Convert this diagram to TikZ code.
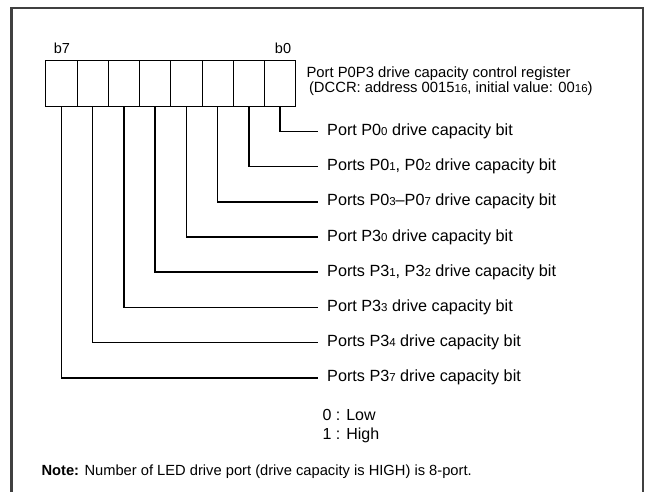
\documentclass[tikz,border=0pt]{standalone}
\usepackage{fontspec}
\setmainfont{Liberation Sans}
\usetikzlibrary{positioning}
\newcommand{\lo}[1]{{\fontsize{11.5}{11.5}\selectfont #1}}

\begin{document}
\begin{tikzpicture}[x=1pt, y=-1pt,
  regcell/.style={draw, line width=0.8pt, minimum width=31.25pt, minimum height=45.3pt, inner sep=0pt},
  leader/.style={line width=1.6pt},
  bitlabel/.style={anchor=west, inner xsep=9pt, inner ysep=0pt, font=\fontsize{16.2}{16}\selectfont},
  bitnum/.style={font=\fontsize{14.5}{15}\selectfont},
  frame/.style={line width=2.2pt, draw=black!75}
]
  \useasboundingbox (0,0) rectangle (647,491);
  \draw[frame] (11.5,495) -- (11.5,8) -- (643,8) -- (643,495);

  % register cells, b7 on the left
  \foreach \i in {0,...,7}
    \node[regcell] (bit\i) at ({61.35+31.25*(7-\i)}, 83.35) {};
  \node[bitnum] (msb) at (62,48) {b7};
  \node[bitnum] (lsb) at (283,48) {b0};

  \node[anchor=west, align=left, font=\fontsize{14.8}{15}\selectfont] (regname) at (303,81)
    {Port P0P3 drive capacity control register\\
     \hspace{2.5pt}(DCCR: address 0015\lo{16}, initial value: 00\lo{16})};

  % one leader per bit
  \foreach \i/\txt in {0/{Port P0\lo{0} drive capacity bit},
                       1/{Ports P0\lo{1}, P0\lo{2} drive capacity bit},
                       2/{Ports P0\lo{3}--P0\lo{7} drive capacity bit},
                       3/{Port P3\lo{0} drive capacity bit},
                       4/{Ports P3\lo{1}, P3\lo{2} drive capacity bit},
                       5/{Port P3\lo{3} drive capacity bit},
                       6/{Ports P3\lo{4} drive capacity bit},
                       7/{Ports P3\lo{7} drive capacity bit}}
  {
    \node[bitlabel] (lab\i) at (318, {131.3+35.2*\i}) {\txt};
    \draw[leader] (bit\i.south) |- (lab\i.west);
  }

  \node[anchor=west, align=left, font=\fontsize{16}{19}\selectfont] (legend) at (319,426)
    {0 : Low\\1 : High};

  \node[anchor=west, font=\fontsize{14.7}{15}\selectfont] (note) at (38,472)
    {\textbf{Note:} Number of LED drive port (drive capacity is HIGH) is 8-port.};
\end{tikzpicture}
\end{document}
